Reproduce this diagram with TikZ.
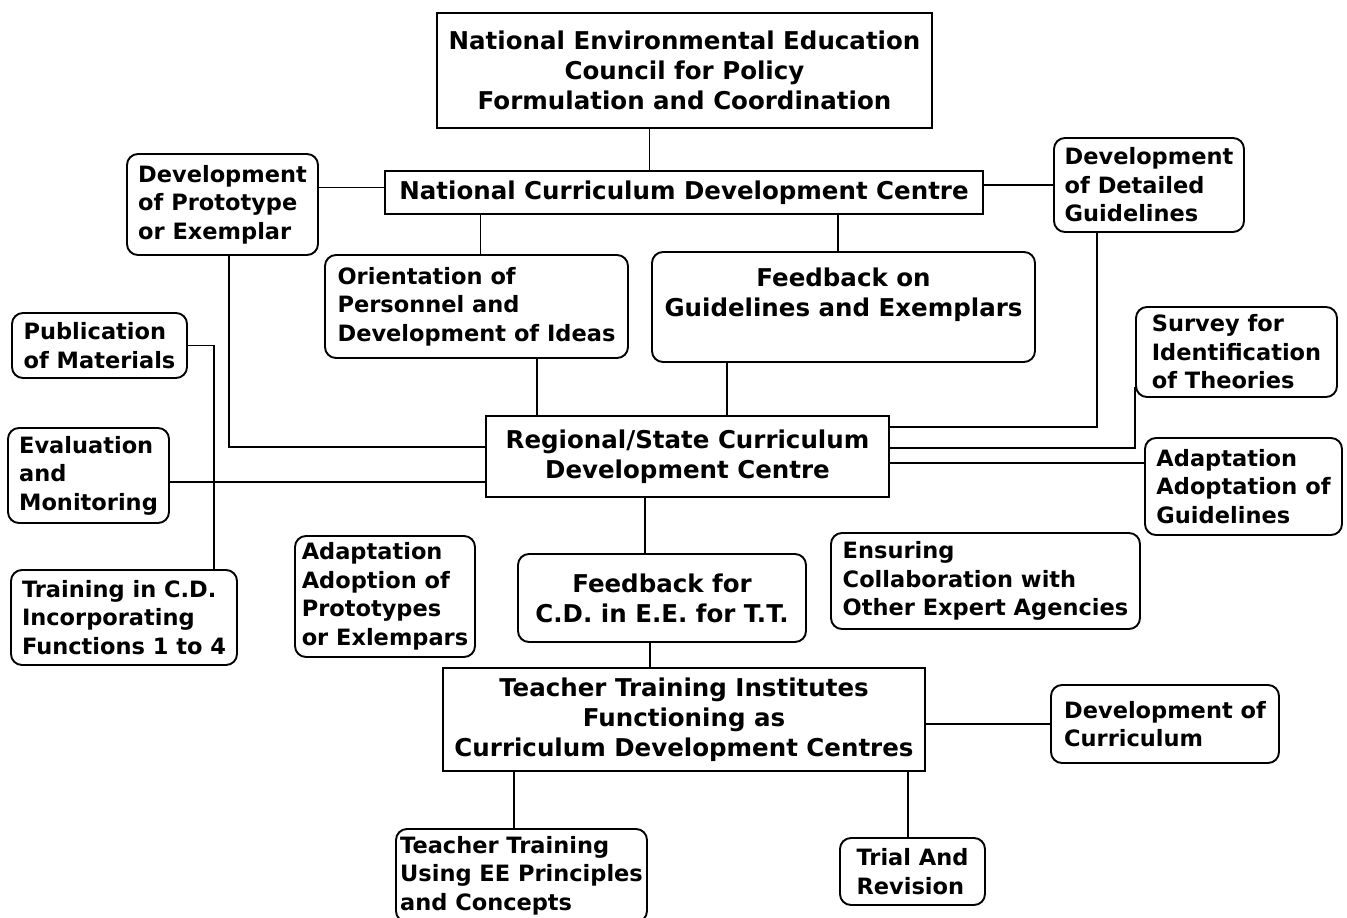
\documentclass[tikz,border=0pt]{standalone}
\usepackage{fontspec}
\setmainfont{DejaVu Sans}
\newcommand{\bigtxt}{\fontsize{24.5}{30}\selectfont\bfseries}
\newcommand{\smalltxt}{\fontsize{22.5}{28.5}\selectfont\bfseries}

\begin{document}
\begin{tikzpicture}[x=1pt, y=-1pt, line width=1.9pt,
    sqbox/.style={draw, align=center, font=\bigtxt, inner sep=2pt},
    rbox/.style={draw, rounded corners=11pt, align=left, font=\smalltxt, inner sep=2pt},
    cbox/.style={rbox, align=center, font=\bigtxt}]

    \useasboundingbox (0,0) rectangle (1347,918);

    %% Main chain

    % Council
    \node[sqbox, minimum width=495pt, minimum height=115pt] (neec) at (684.5,70.5)
        {National Environmental Education\\Council for Policy\\Formulation and Coordination};

    % National centre
    \node[sqbox, minimum width=598pt, minimum height=43pt] (ncdc) at (684,192.5)
        {National Curriculum Development Centre};

    % Regional centre
    \node[sqbox, minimum width=403pt, minimum height=81pt] (regional) at (687.5,456.5)
        {Regional/State Curriculum\\Development Centre};

    % Teacher training institutes
    \node[sqbox, minimum width=482pt, minimum height=103pt] (tti) at (684,719.5)
        {Teacher Training Institutes\\Functioning as\\Curriculum Development Centres};

    %% Functions of the national centre
    \node[rbox, minimum width=191pt, minimum height=101pt] (devproto) at (222.5,204.5)
        {Development\\of Prototype\\or Exemplar};
    \node[rbox, minimum width=190pt, minimum height=94pt] (devdetail) at (1149,185)
        {Development\\of Detailed\\Guidelines};
    \node[rbox, minimum width=303pt, minimum height=103pt] (orient) at (476.5,306.5)
        {Orientation of\\Personnel and\\Development of Ideas};
    \node[cbox, minimum width=383pt, minimum height=110pt] (fbon) at (843.5,307)
        {Feedback on\\Guidelines and Exemplars\\[-10pt] \strut};

    %% Functions of the regional centre
    \node[rbox, minimum width=175pt, minimum height=65pt] (publ) at (99.5,345.5)
        {Publication\\of Materials};
    \node[rbox, minimum width=201pt, minimum height=90pt] (survey) at (1236.5,352)
        {Survey for\\Identification\\of Theories};
    \node[rbox, minimum width=161pt, minimum height=95pt] (eval) at (88.5,475.5)
        {Evaluation\\and\\Monitoring};
    \node[rbox, minimum width=197pt, minimum height=97pt] (adaptg) at (1243.5,486.5)
        {Adaptation\\Adoptation of\\Guidelines};
    \node[rbox, minimum width=226pt, minimum height=95pt] (train) at (124,617.5)
        {Training in C.D.\\Incorporating\\Functions 1 to 4};
    \node[rbox, minimum width=180pt, minimum height=121pt] (adaptp) at (385,596.5)
        {Adaptation\\Adoption of\\Prototypes\\or Exlempars};
    \node[cbox, minimum width=288pt, minimum height=88pt] (fbfor) at (662,598)
        {Feedback for\\C.D. in E.E. for T.T.};
    \node[rbox, minimum width=309pt, minimum height=96pt] (ensure) at (985.5,581)
        {Ensuring\\Collaboration with\\Other Expert Agencies};

    %% Functions of the institutes
    \node[rbox, minimum width=228pt, minimum height=78pt] (devcur) at (1165,724)
        {Development of\\Curriculum};
    \node[rbox, minimum width=251pt, minimum height=93pt] (ttrain) at (521.5,875.5)
        {Teacher Training\\Using EE Principles\\and Concepts};
    \node[rbox, minimum width=145pt, minimum height=67pt] (trial) at (912.5,871.5)
        {Trial And\\Revision};

    %% Links

    % top
    \draw ([xshift=-35pt]neec.south) -- ([xshift=-35pt]neec.south |- ncdc.north);
    \draw ([yshift=5pt]ncdc.west) -- ([yshift=5pt]ncdc.west -| devproto.east);
    \draw (devdetail.west) -- (devdetail.west -| ncdc.east);
    \draw ([xshift=4pt]orient.north) -- ([xshift=4pt]orient.north |- ncdc.south);
    \draw ([xshift=-5.5pt]fbon.north) -- ([xshift=-5.5pt]fbon.north |- ncdc.south);

    % into the regional centre
    \draw ([xshift=60.5pt]orient.south) -- ([xshift=60.5pt]orient.south |- regional.north);
    \draw ([xshift=-116.5pt]fbon.south) -- ([xshift=-116.5pt]fbon.south |- regional.north);
    \draw ([yshift=9.5pt]regional.west) -| ([xshift=6.5pt]devproto.south);
    \draw ([yshift=29.5pt]regional.east) -| ([xshift=-52pt]devdetail.south);
    \draw ([yshift=8.5pt]regional.east) -| ([yshift=11pt]survey.south west);
    \draw ([yshift=-6.5pt]regional.east) -- ([yshift=-6.5pt]regional.east -| adaptg.west);
    \draw ([yshift=-6.5pt]eval.east) -- ([yshift=-6.5pt]eval.east -| regional.west);
    \draw (publ.east) -| ([xshift=90pt]train.north);

    % bottom
    \draw ([xshift=-17pt]fbfor.north) -- ([xshift=-17pt]fbfor.north |- regional.south);
    \draw ([xshift=-12pt]fbfor.south) -- ([xshift=-12pt]fbfor.south |- tti.north);
    \draw (devcur.west) -- (devcur.west -| tti.east);
    \draw ([xshift=-7.5pt]ttrain.north) -- ([xshift=-7.5pt]ttrain.north |- tti.south);
    \draw ([xshift=-4.5pt]trial.north) -- ([xshift=-4.5pt]trial.north |- tti.south);

\end{tikzpicture}
\end{document}
